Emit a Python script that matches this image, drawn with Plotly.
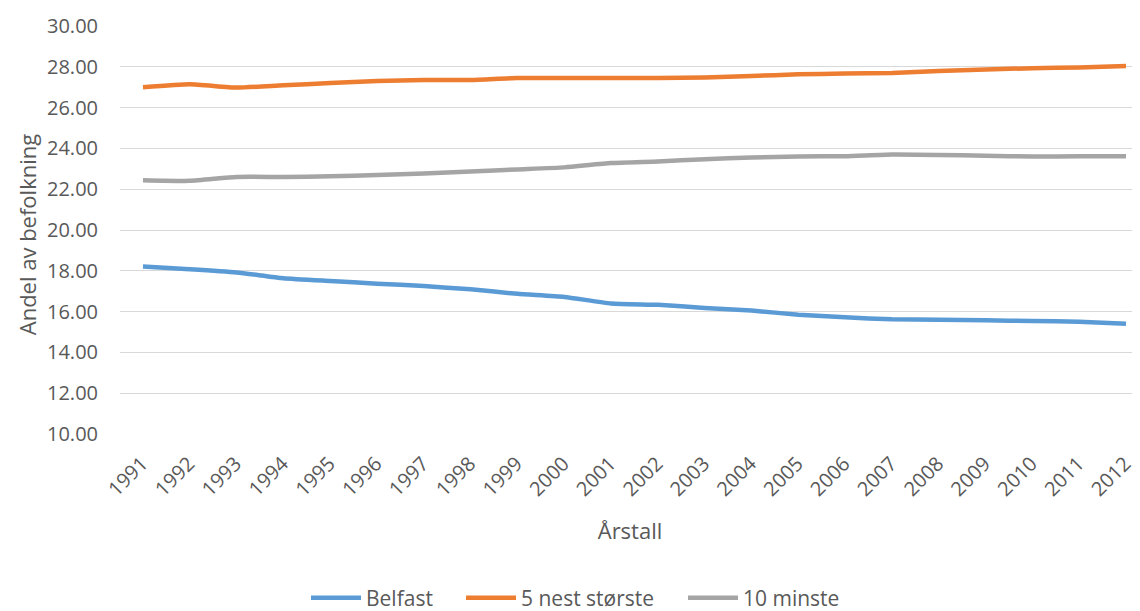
import plotly.graph_objects as go

years = list(range(1991, 2013))
belfast = [18.21, 18.08, 17.92, 17.64, 17.50, 17.37, 17.25, 17.09, 16.87, 16.72, 16.40,
           16.33, 16.18, 16.05, 15.85, 15.72, 15.62, 15.60, 15.57, 15.54, 15.50, 15.40]
nest_storste = [27.00, 27.15, 26.98, 27.10, 27.20, 27.30, 27.35, 27.35, 27.45, 27.45, 27.45,
                27.45, 27.48, 27.55, 27.63, 27.67, 27.70, 27.80, 27.87, 27.93, 27.97, 28.04]
minste = [22.44, 22.41, 22.60, 22.60, 22.63, 22.70, 22.77, 22.87, 22.97, 23.07, 23.28,
          23.36, 23.47, 23.55, 23.60, 23.62, 23.70, 23.68, 23.64, 23.60, 23.62, 23.62]
series_names = ["Belfast", "5 nest største", "10 minste"]
colors = ["#5B9BD5", "#ED7D31", "#A5A5A5"]
legend_ids = ["legend", "legend2", "legend3"]
legend_x = [298, 453, 675]  # left edges of legend boxes (px in figure)
y_title = "Andel av befolkning"

fig = go.Figure()
for name, vals, c, lg in zip(series_names, [belfast, nest_storste, minste], colors, legend_ids):
    fig.add_trace(go.Scatter(x=years, y=vals, name=name, mode="lines", legend=lg,
                             line=dict(color=c, width=4.5, shape="spline", smoothing=0.5)))

W, H = 1132, 603
font = "'Open Sans', sans-serif"
legend_common = dict(orientation="h", xanchor="left", xref="container", yref="container",
                     y=0.0216, yanchor="middle", font=dict(size=21, color="#595959"),
                     itemwidth=50, borderwidth=0, bgcolor="rgba(0,0,0,0)")
fig.update_layout(
    width=W, height=H,
    margin=dict(l=112, r=0, t=18, b=177, autoexpand=False),
    plot_bgcolor="white", paper_bgcolor="white",
    font=dict(family=font, size=20, color="#595959"),
    showlegend=True,
    legend=dict(x=legend_x[0] / W, **legend_common),
    legend2=dict(x=legend_x[1] / W, **legend_common),
    legend3=dict(x=legend_x[2] / W, **legend_common),
    xaxis=dict(range=[1990.509, 2012.299], tickmode="array", tickvals=years,
               ticktext=[str(y) for y in years], tickangle=-45, showgrid=False,
               zeroline=False, showline=False, ticks="", ticklabelshift=-1,
               ticklabelstandoff=13, automargin=False,
               title=dict(text="Årstall", font=dict(size=22, color="#595959"), standoff=22)),
    yaxis=dict(range=[10, 30], tickmode="array", tickvals=list(range(10, 31, 2)),
               ticktext=[f"{v:.2f}" for v in range(10, 31, 2)],
               showgrid=True, gridcolor="#d9d9d9", gridwidth=1.3, zeroline=False,
               showline=False, ticks="", ticklabelstandoff=21, automargin=False),
    annotations=[dict(text=y_title, textangle=-90, xref="paper", yref="paper",
                      x=-0.091, y=0.49, xanchor="center", yanchor="middle", showarrow=False,
                      font=dict(size=22, color="#595959"))],
)
fig.write_html("out.html")
